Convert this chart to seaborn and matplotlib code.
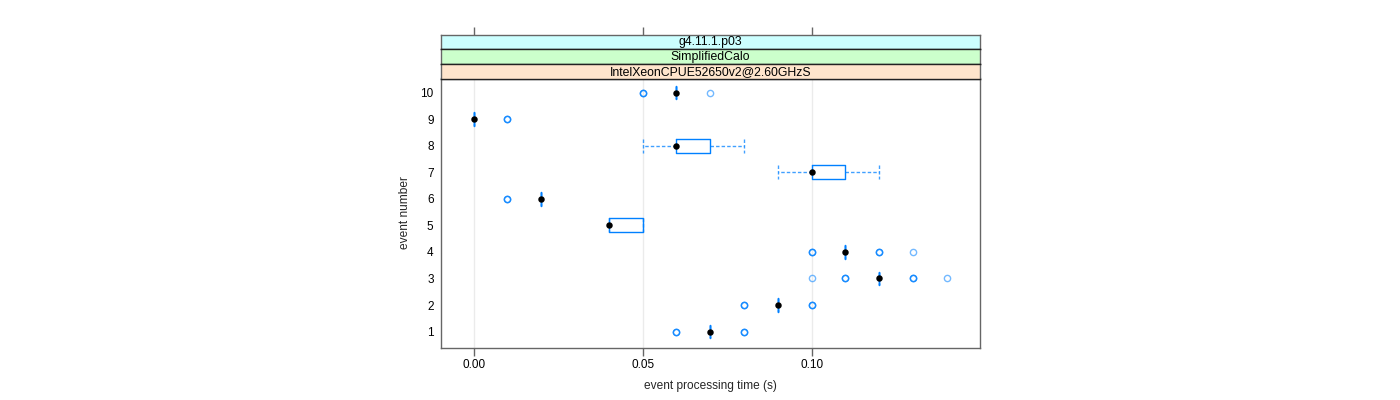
import numpy as np
import pandas as pd
import matplotlib
matplotlib.use("Agg")
import matplotlib.pyplot as plt
import seaborn as sns

# event processing time samples (s) per event
event_1 = [0.06] * 3 + [0.07] * 14 + [0.08] * 3
event_2 = [0.08] * 3 + [0.09] * 14 + [0.10] * 3
event_3 = [0.10] * 1 + [0.11] * 3 + [0.12] * 12 + [0.13] * 3 + [0.14] * 1
event_4 = [0.10] * 3 + [0.11] * 13 + [0.12] * 3 + [0.13] * 1
event_5 = [0.04] * 12 + [0.05] * 8
event_6 = [0.01] * 3 + [0.02] * 17
event_7 = [0.09] * 2 + [0.10] * 9 + [0.11] * 6 + [0.12] * 3
event_8 = [0.05] * 2 + [0.06] * 9 + [0.07] * 6 + [0.08] * 3
event_9 = [0.00] * 17 + [0.01] * 3
event_10 = [0.05] * 3 + [0.06] * 16 + [0.07] * 1

events = [event_1, event_2, event_3, event_4, event_5,
          event_6, event_7, event_8, event_9, event_10]
event_labels = [str(i) for i in range(1, 11)]

strip_labels = ["g4.11.1.p03", "SimplifiedCalo", "IntelXeonCPUE52650v2@2.60GHzS"]
strip_colors = ["#ccffff", "#ccffcc", "#ffe5cc"]
x_ticks = [0.00, 0.05, 0.10]

rows = []
for lab, vals in zip(event_labels, events):
    for v in vals:
        rows.append({"event": lab, "time": v})
df = pd.DataFrame(rows)

sns.set_theme(style="white")
plt.rcParams["font.family"] = ["Liberation Sans", "DejaVu Sans"]

fig = plt.figure(figsize=(14, 4), dpi=100)
W, H = 1400.0, 400.0
left, right = 440.5, 980.0
top, bottom = 78.5, 347.5
ax = fig.add_axes([left / W, 1 - bottom / H, (right - left) / W, (bottom - top) / H])

blue = "#0080ff"
order = event_labels[::-1]
sns.boxplot(
    data=df, x="time", y="event", order=order, orient="h", ax=ax,
    width=0.52, fill=False, color=blue, linewidth=1.0, whis=1.5,
    capwidths=0.52,
    boxprops=dict(color=blue, linewidth=1.0),
    whiskerprops=dict(color=blue, alpha=0.75, linestyle=(0, (2.5, 1.5)), linewidth=1.0),
    capprops=dict(color=blue, alpha=0.75, linestyle=(0, (2.5, 1.5)), linewidth=1.0),
    medianprops=dict(visible=False),
    flierprops=dict(marker="o", markerfacecolor="none",
                    markeredgecolor=(0.0, 0.5, 1.0, 0.55),
                    markersize=4.5, markeredgewidth=1.0),
)
sns.pointplot(
    data=df, x="time", y="event", order=order, orient="h", ax=ax,
    estimator="median", errorbar=None, color="black",
    linestyle="none", marker="o", markersize=2.6,
)

ax.set_xlim(-0.0098, 0.1498)
ax.set_ylim(9.6, -0.53)
ax.set_xticks(x_ticks)
ax.set_xticklabels(["0.00", "0.05", "0.10"])
ax.xaxis.grid(True, color="#ebebeb", linewidth=1.0)
ax.yaxis.grid(False)
ax.set_axisbelow(True)
ax.tick_params(axis="x", bottom=True, direction="out", length=5.5, width=1,
               color="#666666", labelsize=8.5, pad=3, labelcolor="black")
ax.tick_params(axis="y", left=False, length=0, labelsize=8.5, pad=5, labelcolor="black")
for sp in ax.spines.values():
    sp.set_color("#666666")
    sp.set_linewidth(1.0)
ax.set_xlabel("event processing time (s)", fontsize=8.6, labelpad=6)
ax.set_ylabel("event number", fontsize=8.6, labelpad=7)

# strips above the panel (top level first)
strip_h = (78.5 - 34.5) / 3
for i, (lab, col) in enumerate(zip(strip_labels, strip_colors)):
    y0 = 34.5 + i * strip_h
    sax = fig.add_axes([left / W, 1 - (y0 + strip_h) / H, (right - left) / W, strip_h / H])
    sax.set_facecolor(col)
    sax.set_xlim(ax.get_xlim())
    sax.set_ylim(0, 1)
    sax.set_yticks([])
    sax.text(0.5, 0.47, lab, transform=sax.transAxes, ha="center", va="center",
             fontsize=8.8, color="black")
    for name, sp in sax.spines.items():
        sp.set_linewidth(1.0)
        sp.set_color("#222222" if name in ("top", "bottom") else "#666666")
    if i == 0:
        sax.spines["top"].set_color("#666666")
        sax.set_xticks(x_ticks)
        sax.tick_params(axis="x", top=True, bottom=False, labeltop=False,
                        labelbottom=False, direction="out", length=6, width=1,
                        color="#666666")
    else:
        sax.set_xticks([])

fig.savefig("out.png", dpi=100)
